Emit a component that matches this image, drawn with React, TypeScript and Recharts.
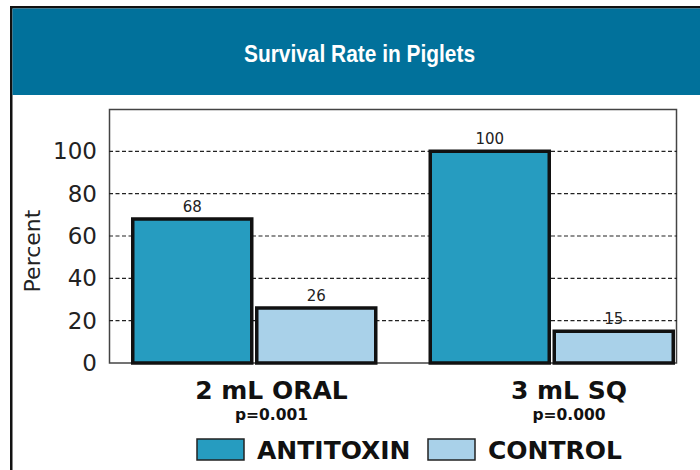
import React from "react";
import { BarChart, Bar, XAxis, YAxis, CartesianGrid, LabelList } from "recharts";

const doses = ["2 mL ORAL", "3 mL SQ"];
const pValues = ["p=0.001", "p=0.000"];
const antitoxin = [68, 100];
const control = [26, 15];
const yTicks = [0, 20, 40, 60, 80, 100];
const gridValues = [20, 40, 60, 80, 100];
const seriesNames = ["ANTITOXIN", "CONTROL"];
const seriesKeys = ["antitoxin", "control"];
const seriesColors = ["#269cc0", "#a9d1e9"];

const data = doses.map((dose, i) => ({
  dose,
  p: pValues[i],
  antitoxin: antitoxin[i],
  control: control[i],
}));

const boldFont = "'DejaVu Sans', sans-serif";

function DoseTick(props: any) {
  const { x, y, payload } = props;
  const i = doses.indexOf(payload.value);
  return (
    <g>
      <text
        x={x + 17}
        y={y + 36}
        textAnchor="middle"
        fontFamily={boldFont}
        fontWeight="bold"
        fontSize={25}
        fill="#111"
      >
        {payload.value}
      </text>
      <text
        x={x + 17}
        y={y + 57}
        textAnchor="middle"
        fontFamily={boldFont}
        fontWeight="bold"
        fontSize={15.5}
        fill="#111"
      >
        {pValues[i]}
      </text>
    </g>
  );
}

export default function App() {
  const legendX = [197, 428];
  return (
    <div style={{ position: "absolute", left: 0, top: 0, width: 700, height: 470 }}>
      <svg width={700} height={470} style={{ position: "absolute", left: 0, top: 0 }}>
        <rect x={10} y={6} width={690} height={2.5} fill="#111" />
        <rect x={10} y={6} width={2.5} height={464} fill="#111" />
        <rect x={12.5} y={8.5} width={687.5} height={86.5} fill="#01719b" />
        <text
          x={359.5}
          y={62}
          textAnchor="middle"
          fill="#fff"
          fontFamily="'Liberation Sans', Arial, sans-serif"
          fontWeight="bold"
          fontSize={23}
          textLength={231}
          lengthAdjust="spacingAndGlyphs"
        >
          Survival Rate in Piglets
        </text>
        <rect x={109.5} y={109.5} width={567} height={253.5} fill="none" stroke="#444" strokeWidth={1.5} />
        {seriesNames.map((name, i) => (
          <g key={name}>
            <rect
              x={legendX[i]}
              y={439}
              width={47}
              height={21}
              fill={seriesColors[i]}
              stroke="#222"
              strokeWidth={1.5}
            />
            <text
              x={legendX[i] + 60}
              y={459}
              fontFamily={boldFont}
              fontWeight="bold"
              fontSize={25}
              fill="#111"
            >
              {name}
            </text>
          </g>
        ))}
      </svg>
      <div style={{ position: "absolute", left: 0, top: 0 }}>
        <BarChart
          width={700}
          height={470}
          data={data}
          margin={{ top: 109, right: 23, bottom: 47, left: 49 }}
          barCategoryGap={27}
          barGap={5}
        >
          <CartesianGrid
            vertical={false}
            horizontalValues={gridValues}
            stroke="#222"
            strokeWidth={1.2}
            strokeDasharray="4 2.5"
          />
          <XAxis
            dataKey="dose"
            padding={{ left: -3.25, right: -23.75 }}
            axisLine={false}
            tickLine={false}
            tickSize={0}
            tickMargin={0}
            height={60}
            interval={0}
            tick={<DoseTick />}
          />
          <YAxis
            domain={[0, 120]}
            ticks={yTicks}
            width={60}
            axisLine={false}
            tickLine={false}
            tickSize={0}
            tickMargin={12}
            tick={{ fontSize: 23, fill: "#222", fontFamily: "'DejaVu Sans', sans-serif" }}
            label={{
              content: () => (
                <text
                  x={40}
                  y={251}
                  transform="rotate(-90 40 251)"
                  textAnchor="middle"
                  fontFamily="'DejaVu Sans', sans-serif"
                  fontSize={22}
                  fill="#222"
                >
                  Percent
                </text>
              ),
            }}
          />
          {seriesKeys.map((key, i) => (
            <Bar
              key={key}
              dataKey={key}
              name={seriesNames[i]}
              fill={seriesColors[i]}
              stroke="#111"
              strokeWidth={3.5}
              isAnimationActive={false}
            >
              <LabelList
                dataKey={key}
                position="top"
                offset={7}
                fill="#222"
                fontSize={15}
                fontFamily="'DejaVu Sans', sans-serif"
              />
            </Bar>
          ))}
        </BarChart>
      </div>
    </div>
  );
}
